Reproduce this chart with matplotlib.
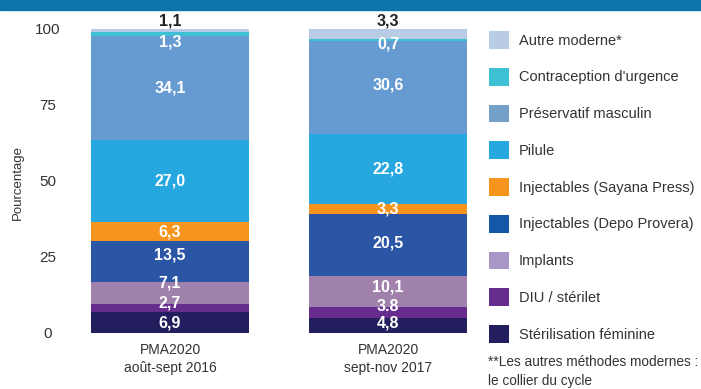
import matplotlib
matplotlib.use("Agg")
import matplotlib.pyplot as plt
from matplotlib.patches import Patch, Rectangle

plt.rcParams["font.family"] = ["Liberation Sans", "DejaVu Sans"]

# Method mix (%), listed from the bottom of the stack to the top
periods = ["PMA2020\naoût-sept 2016", "PMA2020\nsept-nov 2017"]
methods = [
    "Stérilisation féminine",
    "DIU / stérilet",
    "Implants",
    "Injectables (Depo Provera)",
    "Injectables (Sayana Press)",
    "Pilule",
    "Préservatif masculin",
    "Contraception d'urgence",
    "Autre moderne*",
]
share_2016 = [6.9, 2.7, 7.1, 13.5, 6.3, 27.0, 34.1, 1.3, 1.1]
share_2017 = [4.8, 3.8, 10.1, 20.5, 3.3, 22.8, 30.6, 0.7, 3.3]
labels_2016 = ["6,9", "2,7", "7,1", "13,5", "6,3", "27,0", "34,1", "1,3", "1,1"]
labels_2017 = ["4,8", "3.8", "10,1", "20,5", "3,3", "22,8", "30,6", "0,7", "3,3"]

bar_colors = ["#231f5e", "#662d8f", "#9f81ac", "#2b55a5", "#f7941d",
              "#27a7e0", "#669bd1", "#3ec1d5", "#b8cde3"]
legend_colors = ["#231f5e", "#662d8f", "#a896c6", "#1557a8", "#f7941d",
                 "#27a7e0", "#75a0c8", "#3ec1d5", "#b8cde3"]

# small vertical nudges so thin segments keep readable labels
nudge_2016 = [0, 1.6, 3.3, 2.3, 0, 0, 0, -2.6, 0]
nudge_2017 = [1.0, 1.9, 1.6, 0.7, 0, 0, 1.0, -1.3, 0]

TEXT = "#333333"
W, H = 701, 389
fig = plt.figure(figsize=(W / 100, H / 100), dpi=100)
ax = fig.add_axes([70 / W, (H - 333) / H, 410 / W, 304 / H])

# title band at the top edge
fig.add_artist(Rectangle((0, 1 - 10 / H), 1, 10 / H, transform=fig.transFigure,
                         color="#0b74a9", zorder=0))

series = [(share_2016, labels_2016, nudge_2016), (share_2017, labels_2017, nudge_2017)]
for x, (shares, labels, nudges) in enumerate(series):
    bottom = 0
    for i, (v, lab, dy) in enumerate(zip(shares, labels, nudges)):
        ax.bar(x, v, width=0.725, bottom=bottom, color=bar_colors[i], linewidth=0)
        if i == len(shares) - 1:
            ax.text(x, bottom + v + 0.3, lab, ha="center", va="bottom",
                    fontsize=11.5, fontweight="bold", color="#222222", clip_on=False)
        else:
            ax.text(x, bottom + v / 2 + dy, lab, ha="center", va="center",
                    fontsize=11.5, fontweight="bold", color="white")
        bottom += v

ax.set_xlim(-0.459, 1.422)
ax.set_ylim(0, 100)
ax.set_yticks([0, 25, 50, 75, 100])
ax.tick_params(axis="y", length=0, pad=15.8, labelsize=11, labelcolor=TEXT)
for t in ax.get_yticklabels():
    t.set_horizontalalignment("center")
ax.set_xticks([0, 1])
ax.set_xticklabels(periods, linespacing=1.35)
ax.tick_params(axis="x", length=0, pad=7.5, labelsize=10, labelcolor=TEXT)
for s in ax.spines.values():
    s.set_visible(False)

fig.text(18 / W, 1 - 183 / H, "Pourcentage", rotation=90, ha="center", va="center",
         fontsize=9.5, color=TEXT)

handles = [Patch(facecolor=c, linewidth=0) for c in legend_colors[::-1]]
fig.legend(handles, methods[::-1], loc="upper left",
           bbox_to_anchor=(489 / W, 1 - 31 / H), frameon=False, fontsize=10.5,
           handlelength=1.4, handleheight=1.5, handletextpad=0.65,
           labelspacing=1.3, borderpad=0, borderaxespad=0, labelcolor=TEXT)

fig.text(488 / W, 1 - 355 / H, "**Les autres méthodes modernes :\nle collier du cycle",
         ha="left", va="top", fontsize=9.8, color=TEXT, linespacing=1.45)

fig.savefig("out.png", dpi=100)
